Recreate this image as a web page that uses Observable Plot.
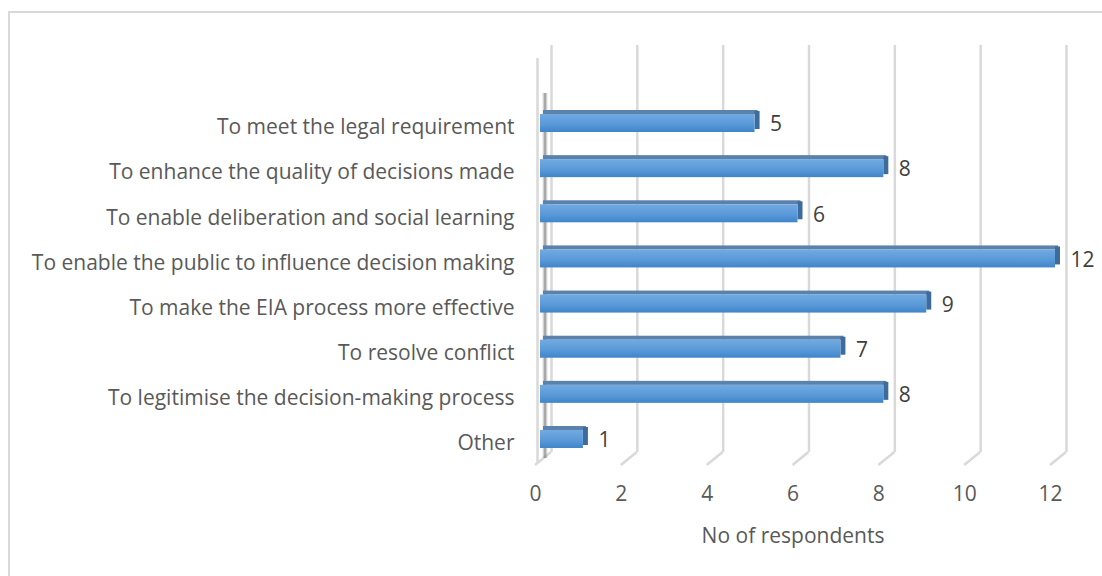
<!DOCTYPE html>
<html>
<head>
<meta charset="utf-8">
<script src="https://cdn.jsdelivr.net/npm/d3@7"></script>
<script src="https://cdn.jsdelivr.net/npm/@observablehq/plot@0.6"></script>
<style>
  body { margin: 0; background: #fff; }
  #wrap { position: relative; width: 1102px; height: 576px; overflow: hidden; }
  #border { position: absolute; left: 8px; top: 11px; right: -10px; bottom: -10px;
            border-top: 2px solid #d9d9d9; border-left: 2px solid #d9d9d9; pointer-events: none; }
</style>
</head>
<body>
<div id="wrap"><div id="border"></div></div>
<script>
const categories = [
  "To meet the legal requirement",
  "To enhance the quality of decisions made",
  "To enable deliberation and social learning",
  "To enable the public to influence decision making",
  "To make the EIA process more effective",
  "To resolve conflict",
  "To legitimise the decision-making process",
  "Other"
];
const values = [5, 8, 6, 12, 9, 7, 8, 1];
const xTicks = [0, 2, 4, 6, 8, 10, 12];
const xTitle = "No of respondents";

const data = categories.map((c, i) => ({category: c, i, value: values[i]}));
const NS = "http://www.w3.org/2000/svg";
const FS = 21;

function defsMark() {
  const defs = document.createElementNS(NS, "defs");
  defs.innerHTML = `
    <linearGradient id="barGrad" x1="0" y1="0" x2="0" y2="1">
      <stop offset="0" stop-color="#72aae2"/>
      <stop offset="0.55" stop-color="#5a9ad8"/>
      <stop offset="1" stop-color="#4085ca"/>
    </linearGradient>
    <linearGradient id="wallShade" x1="0" y1="0" x2="1" y2="0">
      <stop offset="0" stop-color="#999" stop-opacity="0"/>
      <stop offset="0.5" stop-color="#777" stop-opacity="0.8"/>
      <stop offset="1" stop-color="#999" stop-opacity="0"/>
    </linearGradient>`;
  return defs;
}

function floorMark(index, scales, values, dims) {
  const g = document.createElementNS(NS, "g");
  const yb = dims.height - dims.marginBottom;
  for (const v of xTicks) {
    const p = document.createElementNS(NS, "path");
    const xv = scales.x(v);
    p.setAttribute("d", `M${xv + 11},${yb}L${xv - 5},${yb + 13}`);
    p.setAttribute("stroke", "#d9d9d9");
    p.setAttribute("stroke-width", "2.5");
    p.setAttribute("fill", "none");
    g.appendChild(p);
  }
  return g;
}

const chart = Plot.plot({
  width: 1102,
  height: 576,
  marginLeft: 540,
  marginRight: 47,
  marginTop: 45,
  marginBottom: 124,
  style: {fontFamily: "'Open Sans', Lato, sans-serif", fontSize: FS + "px", color: "#595959", background: "transparent"},
  x: {domain: [0, 12], axis: null},
  y: {domain: [0, 7], range: [123, 439], axis: null},
  marks: [
    defsMark,
    // back-wall gridlines
    Plot.ruleX(xTicks, {x: d => d, dx: 11, stroke: "#d9d9d9", strokeWidth: 2.5}),
    floorMark,
    // left wall front edge and shadow
    Plot.ruleX([0], {x: d => d, dx: -3, insetTop: 13, insetBottom: -10, stroke: "#d9d9d9", strokeWidth: 2.5}),
    Plot.rectX([0], {x1: d => d, x2: d => d, dx: 5, insetLeft: -3, insetRight: -3, insetTop: 48, insetBottom: -6, fill: "url(#wallShade)"}),
    // 3D top face
    Plot.rectX(data, {x1: 0, x2: "value", y1: "i", y2: "i", dx: 3, insetTop: -13, insetBottom: 9, fill: "#5a82ad"}),
    // 3D right face
    Plot.rectX(data, {x1: "value", x2: "value", y1: "i", y2: "i", insetLeft: 0, insetRight: -5, insetTop: -12, insetBottom: -6, fill: "#3d6c9c"}),
    // front face
    Plot.rectX(data, {x1: 0, x2: "value", y1: "i", y2: "i", insetTop: -9, insetBottom: -9, fill: "url(#barGrad)"}),
    // value labels
    Plot.text(data, {x: "value", y: "i", text: d => String(d.value), textAnchor: "start", dx: 15, dy: 1, fill: "#404040", fontSize: FS}),
    // category labels
    Plot.text(data, {y: "i", text: "category", frameAnchor: "left", textAnchor: "end", dx: -26, dy: 4, fill: "#595959", fontSize: FS}),
    // x tick labels
    Plot.text(xTicks, {x: d => d, text: d => String(d), frameAnchor: "bottom", dy: 48, dx: -5, fill: "#595959", fontSize: FS}),
    // x axis title
    Plot.text([xTitle], {text: d => d, frameAnchor: "bottom", dy: 90, dx: -5, fill: "#595959", fontSize: FS})
  ]
});
document.getElementById("wrap").prepend(chart);
</script>
</body>
</html>
